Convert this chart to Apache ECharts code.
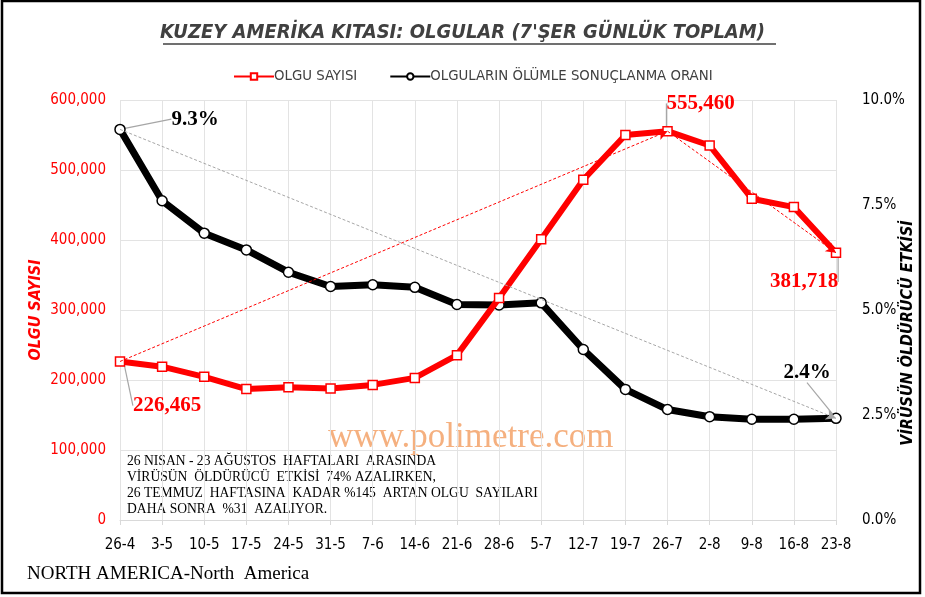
<!DOCTYPE html>
<html><head><meta charset="utf-8">
<script src="https://cdn.jsdelivr.net/npm/echarts@6/dist/echarts.min.js"></script>
<style>html,body{margin:0;padding:0;background:#fff}#c{width:925px;height:597px}</style>
</head><body><div id="c"></div>
<script>
const categories = ['26-4','3-5','10-5','17-5','24-5','31-5','7-6','14-6','21-6','28-6','5-7','12-7','19-7','26-7','2-8','9-8','16-8','23-8'];
const cases = [226465,219000,204500,187000,189500,188000,193000,203000,235500,317000,401000,486000,550000,555460,535000,459000,447000,381718];
const deathRate = [0.093,0.076,0.0683,0.0643,0.059,0.0556,0.056,0.0554,0.0513,0.0512,0.0517,0.0406,0.0311,0.0263,0.0246,0.0240,0.0240,0.0242];
const leftTicks = [0,100000,200000,300000,400000,500000,600000];
const rightTicks = [0,0.025,0.05,0.075,0.1];

const casesLabelIdx = {0:[47,65],13:[33,-7],17:[-32,50]};
const rateLabelIdx = {0:[75,11],17:[-29,-25]};
const labelFont = {fontFamily:'Liberation Serif', fontWeight:'bold', fontSize:21};

const chart = echarts.init(document.getElementById('c'), null, {renderer:'canvas'});
const casesData = cases.map((v,i)=> i in casesLabelIdx ? {value:v,label:{show:true,formatter:p=>p.value.toLocaleString('en-US'),color:'#ff0000',...labelFont},labelLine:{show:true,lineStyle:{color:'#a6a6a6',width:1.2}}} : v);
const rateData = deathRate.map((v,i)=> i in rateLabelIdx ? {value:v,label:{show:true,formatter:p=>(p.value*100).toFixed(1)+'%',color:'#000',...labelFont},labelLine:{show:true,lineStyle:{color:'#a6a6a6',width:1.2}}} : v);

const axisFont = 'Liberation Sans Narrow, DejaVu Sans Condensed, sans-serif';
chart.setOption({
  animation:false,
  title:{text:"KUZEY AMERİKA KITASI: OLGULAR (7'ŞER GÜNLÜK TOPLAM)",left:'center',top:18,
    textStyle:{fontFamily:axisFont,fontStyle:'italic',fontWeight:'bold',fontSize:20,color:'#404040'}},
  legend:{top:64,left:228,itemGap:32,itemWidth:40,itemHeight:8,
    textStyle:{fontFamily:axisFont,fontSize:14.8,color:'#404040',padding:[0,0,0,-5]},
    data:['OLGU SAYISI','OLGULARIN ÖLÜMLE SONUÇLANMA ORANI']},
  grid:{left:120,right:89,top:100,bottom:77,outerBoundsMode:'none',containLabel:false},
  xAxis:{type:'category',data:categories,boundaryGap:false,
    axisLine:{lineStyle:{color:'#d9d9d9'}},
    axisTick:{show:true,alignWithLabel:true,length:5,lineStyle:{color:'#d9d9d9'}},
    axisLabel:{fontFamily:axisFont,fontSize:15,color:'#000',margin:18,interval:0},
    splitLine:{show:true,lineStyle:{color:'#e3e3e3'}}},
  yAxis:[
    {type:'value',min:leftTicks[0],max:leftTicks[leftTicks.length-1],interval:100000,
     name:'OLGU SAYISI',nameLocation:'middle',nameRotate:90,nameGap:76,nameMoveOverlap:false,
     nameTextStyle:{fontFamily:axisFont,fontStyle:'italic',fontWeight:'bold',fontSize:16,color:'#ff0000'},
     axisLabel:{fontFamily:axisFont,fontSize:15,color:'#ff0000',margin:14,formatter:v=>v.toLocaleString('en-US')},
     axisLine:{show:false},axisTick:{show:false},
     splitLine:{lineStyle:{color:'#e3e3e3'}}},
    {type:'value',min:rightTicks[0],max:rightTicks[rightTicks.length-1],interval:0.025,position:'right',
     name:'VİRÜSÜN ÖLDÜRÜCÜ ETKİSİ',nameLocation:'middle',nameRotate:90,nameGap:64,nameMoveOverlap:false,
     nameTextStyle:{fontFamily:axisFont,fontStyle:'italic',fontWeight:'bold',fontSize:16,color:'#000',padding:[0,46,0,0]},
     axisLabel:{fontFamily:axisFont,fontSize:15,color:'#000',margin:26,formatter:v=>(v*100).toFixed(1)+'%'},
     axisLine:{show:false},axisTick:{show:false},splitLine:{show:false}}
  ],
  series:[
    {name:'OLGULARIN ÖLÜMLE SONUÇLANMA ORANI',type:'line',yAxisIndex:1,data:rateData,z:2,
     lineStyle:{color:'#000',width:7},itemStyle:{color:'#fff',borderColor:'#000',borderWidth:1.5},
     symbol:'circle',symbolSize:10,
     labelLayout:p=>{const o=rateLabelIdx[p.dataIndex];return o?{dx:o[0],dy:o[1]}:{};},
     markLine:{silent:true,symbol:['none','arrow'],symbolSize:[8,10],label:{show:false},
       lineStyle:{color:'#a6a6a6',type:[3,2],width:1},
       data:[[{coord:[categories[0],deathRate[0]]},{coord:[categories[17],deathRate[17]]}]]}},
    {name:'OLGU SAYISI',type:'line',yAxisIndex:0,data:casesData,z:3,
     lineStyle:{color:'#ff0000',width:6},itemStyle:{color:'#fff',borderColor:'#ff0000',borderWidth:1.5},
     symbol:'rect',symbolSize:9,
     labelLayout:p=>{const o=casesLabelIdx[p.dataIndex];return o?{dx:o[0],dy:o[1]}:{};},
     markLine:{silent:true,symbol:['none','arrow'],symbolSize:[8,10],label:{show:false},
       lineStyle:{color:'#ff0000',type:[3,2],width:1},
       data:[[{coord:[categories[0],cases[0]]},{coord:[categories[13],cases[13]]}],
             [{coord:[categories[13],cases[13]]},{coord:[categories[17],cases[17]]}]]}}
  ],
  graphic:[
    {type:'rect',shape:{x:2,y:1,width:918,height:592},style:{fill:'none',stroke:'#000',lineWidth:2.5},silent:true},
    {type:'line',shape:{x1:163,y1:44,x2:776,y2:44},style:{stroke:'#404040',lineWidth:1.5}},
    {type:'text',left:328,top:420,style:{text:'www.polimetre.com',fontFamily:'Liberation Serif',fontSize:35,fill:'#f5b07f'},z:0},
    {type:'text',left:127,top:453,style:{text:'26 NISAN - 23 AĞUSTOS  HAFTALARI  ARASINDA\nVİRÜSÜN  ÖLDÜRÜCÜ  ETKİSİ  74% AZALIRKEN,\n26 TEMMUZ  HAFTASINA  KADAR %145  ARTAN OLGU  SAYILARI\nDAHA SONRA  %31  AZALIYOR.',
      fontFamily:'Liberation Serif',fontSize:13.6,lineHeight:16,fill:'#000'}},
    {type:'text',left:27,top:565,style:{text:'NORTH AMERICA-North  America',fontFamily:'Liberation Serif',fontSize:19,fill:'#000'}}
  ]
});
</script></body></html>
